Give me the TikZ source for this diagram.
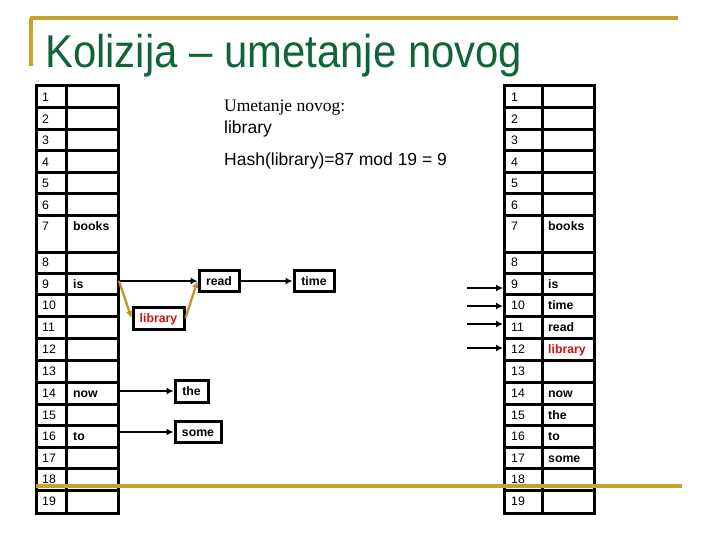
\documentclass[tikz,border=0pt]{standalone}
\usepackage{fontspec}
\setmainfont{Liberation Sans}
\newfontfamily\serifface{Liberation Serif}
\newfontfamily\titleface[FakeStretch=0.91]{Liberation Sans}
\usetikzlibrary{arrows.meta}
\definecolor{gold}{RGB}{200,162,45}
\definecolor{arrowgold}{RGB}{190,150,40}
\definecolor{titlegreen}{RGB}{16,100,56}
\definecolor{wordred}{RGB}{204,20,20}
\begin{document}
\begin{tikzpicture}[x=1pt,y=-1pt,
  tbl/.style={line width=3pt, line cap=rect},
  num/.style={anchor=west, inner sep=0pt, text height=8.8pt, text depth=0pt, font=\fontsize{12.3}{14}\selectfont},
  wrd/.style={anchor=west, inner sep=0pt, text height=8.6pt, text depth=0pt, font=\bfseries\fontsize{12.3}{14}\selectfont},
  chainbox/.style={draw, line width=3pt, inner sep=0pt, text height=8.6pt, text depth=0pt, font=\bfseries\fontsize{12.3}{14}\selectfont},
  ptr/.style={-{Latex[length=7pt,width=7pt]}, line width=2pt},
  goldptr/.style={-{Latex[length=7pt,width=7pt]}, line width=2.3pt, draw=arrowgold, color=arrowgold},
  goldline/.style={draw=gold, line width=3.8pt},
  midtext/.style={anchor=base west, inner sep=0pt, font=\fontsize{17.5}{20}\selectfont}
]
\useasboundingbox (0,0) rectangle (720,540);
% title decoration
\draw[goldline] (30,18) -- (678,18);
\draw[goldline] (31,18) -- (31,66);
\node[anchor=base west, inner sep=0pt, text=titlegreen, font=\titleface\fontsize{46}{50}\selectfont] (title) at (45,68) {Kolizija – umetanje novog};
% tables
\foreach \xa/\xb/\xc in {36/66/118, 504/542/594}{
  \draw[tbl] (\xa,86) rectangle (\xc,513);
  \draw[tbl] (\xb,86) -- (\xb,513);
  \foreach \y in {108,129.5,151,172.5,194,216,252,273,294.5,316.5,338.5,360,382,404,425.5,447,468.5,490}
    \draw[tbl] (\xa,\y) -- (\xc,\y);
}
\foreach \n/\y in {1/97,2/118.75,3/140.25,4/161.75,5/183.25,6/205,7/226.5,8/262.5,9/283.75,10/305.5,11/327.5,12/349.25,13/371,14/393,15/414.75,16/436.25,17/457.75,18/479.25,19/501.5}{
  \node[num] (Ln\n) at (42,\y) {\n};
  \node[num] (Rn\n) at (511,\y) {\n};
}
% left table words
\node[wrd] (Lw7) at (73,226.5) {books};
\node[wrd] (Lw9) at (73,283.75) {is};
\node[wrd] (Lw14) at (73,393) {now};
\node[wrd] (Lw16) at (73,436.25) {to};
% right table words
\node[wrd] (Rw7) at (548,226.5) {books};
\node[wrd] (Rw9) at (548,283.75) {is};
\node[wrd] (Rw10) at (548,305.5) {time};
\node[wrd] (Rw11) at (548,327.5) {read};
\node[wrd, text=wordred] (Rw12) at (548,349.25) {library};
\node[wrd] (Rw14) at (548,393) {now};
\node[wrd] (Rw15) at (548,414.75) {the};
\node[wrd] (Rw16) at (548,436.25) {to};
\node[wrd] (Rw17) at (548,457.75) {some};
% middle text
\node[midtext, font=\serifface\fontsize{17.5}{20}\selectfont] (head) at (224,112) {Umetanje novog:};
\node[midtext] (word) at (224,134) {library};
\node[midtext] (hash) at (224,166) {Hash(library)=87 mod 19 = 9};
% chain boxes
\node[chainbox, minimum width=40pt, minimum height=21pt] (read) at (219,281) {read};
\node[chainbox, minimum width=40pt, minimum height=21pt] (time) at (314,281) {time};
\node[chainbox, minimum width=51pt, minimum height=22pt, text=wordred] (library) at (158.5,318) {library};
\node[chainbox, minimum width=33pt, minimum height=22pt] (the) at (191.5,391) {the};
\node[chainbox, minimum width=46pt, minimum height=21pt] (some) at (198,432) {some};
% connector endpoints at table edges
\coordinate (Lc9) at (119,281);
\coordinate (Lc14) at (119,391);
\coordinate (Lc16) at (119,432);
\draw[ptr] (Lc9) -- (read.west);
\draw[ptr] (read.east) -- (time.west);
\draw[goldptr] (Lc9) -- (library.west);
\draw[goldptr] (library.east) -- (read.west);
\draw[ptr] (Lc14) -- (the.west);
\draw[ptr] (Lc16) -- (some.west);
% incoming arrows on the right table
\foreach \k/\y in {9/288,10/306,11/324,12/348}{
  \coordinate (Rs\k) at (467,\y);
  \coordinate (Rc\k) at (503,\y);
  \draw[ptr] (Rs\k) -- (Rc\k);
}
% bottom gold line
\draw[goldline] (36,486) -- (682,486);
\end{tikzpicture}
\end{document}
